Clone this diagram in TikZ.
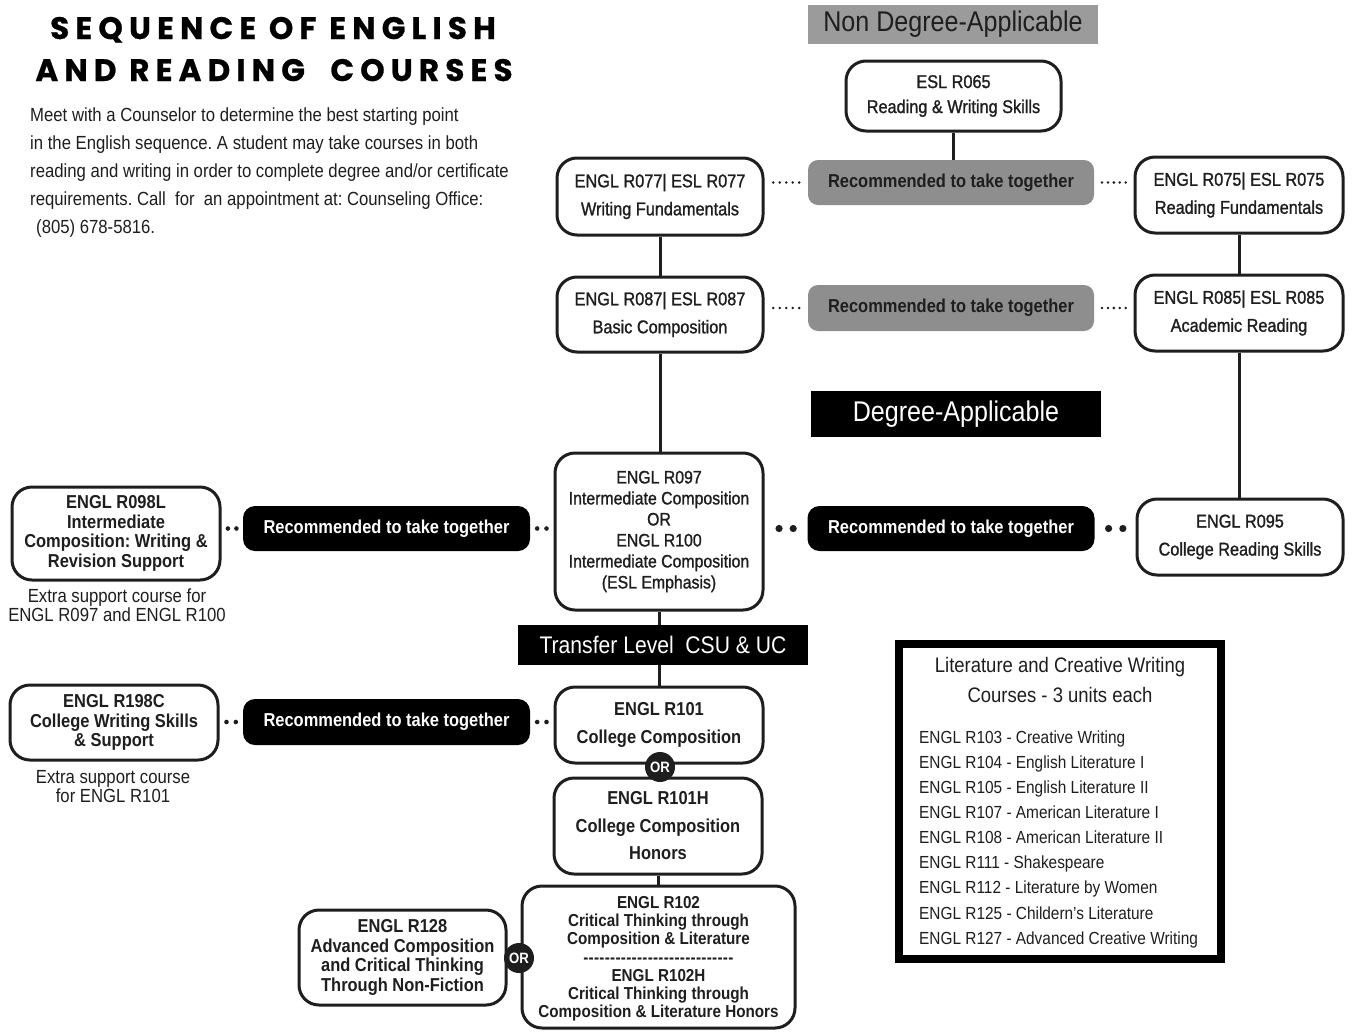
\documentclass[tikz,border=0pt]{standalone}
\usepackage{fontspec}
\usetikzlibrary{calc}
\setmainfont[FakeStretch=0.88]{Liberation Sans}
\newfontfamily\medfont[FakeStretch=0.88,FakeBold=1.2]{Liberation Sans}
\newfontfamily\titlefont[LetterSpace=20,FakeBold=0.8]{Poppins}
\definecolor{ink}{HTML}{1E1E1E}
\definecolor{gbox}{HTML}{8E8E8E}
\definecolor{ghead}{HTML}{9B9B9B}
\newcommand\hy{-\kern0.3pt}
\newcommand\dotrow[4]{\foreach \f in {#4} {\fill[ink] ($(#1)!\f!(#2)$) circle (#3);}}
\frenchspacing
\begin{document}
\begin{tikzpicture}[x=1pt,y=-1pt,
 course/.style={draw=ink, line width=3pt, rounded corners=20pt, fill=white, align=center, inner sep=0pt, text=ink},
 reg/.style={font=\medfont\fontsize{18.5}{28}\selectfont},
 bld/.style={font=\fontsize{18.7}{19.7}\selectfont\bfseries},
 graybox/.style={fill=gbox, rounded corners=10pt, minimum width=286pt, minimum height=45pt, inner sep=0pt, text=ink, font=\fontsize{18.7}{20}\selectfont\bfseries},
 blackbox/.style={fill=black, rounded corners=12pt, minimum width=287pt, minimum height=45pt, inner sep=0pt, text=white, font=\fontsize{18.7}{20}\selectfont\bfseries},
 header/.style={inner sep=0pt, minimum width=290pt, font=\fontsize{28.5}{30}\selectfont},
 conn/.style={draw=ink, line width=3pt},
 orc/.style={circle, fill=ink, text=white, inner sep=0pt, minimum size=30pt, font=\fontsize{15}{15}\selectfont\bfseries},
 para/.style={anchor=base west, inner sep=0pt, text=ink, font=\fontsize{19}{28}\selectfont},
 captext/.style={align=center, inner sep=0pt, text=ink, font=\fontsize{19}{19}\selectfont},
 litline/.style={anchor=base west, inner sep=0pt, text=ink, font=\fontsize{17.5}{25}\selectfont}
]
\useasboundingbox (0,0) rectangle (1356,1031);
\fill[white] (0,0) rectangle (1356,1031);

% title
\node[anchor=base, inner sep=0pt, text=black, font=\titlefont\fontsize{31}{36}\selectfont\bfseries] (t1) at (273,39) {SEQUENCE OF ENGLISH};
\node[anchor=base, inner sep=0pt, text=black, font=\titlefont\fontsize{31}{36}\selectfont\bfseries] (t2) at (274,81) {AND READING\ \ COURSES};

% paragraph
\node[para] (p1) at (30,121) {Meet with a Counselor to determine the best starting point};
\node[para] (p2) at (30,149) {in the English sequence. A student may take courses in both};
\node[para] (p3) at (30,177) {reading and writing in order to complete degree and/or certificate};
\node[para] (p4) at (30,205) {requirements. Call\ \ for\ \ an appointment at: Counseling Office:};
\node[para] (p5) at (36,233) {(805) 678-5816.};

% headers
\node[header, fill=ghead, minimum height=39pt, text=ink] (nondeg) at (953,24.5) {\raisebox{-1.5pt}{Non Degree-Applicable}};
\node[header, fill=black, minimum height=46pt, text=white] (deg) at (956,414) {\raisebox{-1.5pt}{Degree-Applicable}};
\node[header, fill=black, minimum height=40pt, text=white, font=\fontsize{24}{26}\selectfont] (transfer) at (663,645) {Transfer Level\ \ CSU \& UC};

% course boxes
\node[course, reg, font=\medfont\fontsize{18.5}{25}\selectfont, minimum width=215pt, minimum height=70pt] (r065) at (953.5,96) {ESL R065\\Reading \& Writing Skills};
\node[course, reg, minimum width=206pt, minimum height=77pt] (r077) at (660,196.5) {ENGL R077| ESL R077\\Writing Fundamentals};
\node[course, reg, minimum width=208pt, minimum height=76pt] (r075) at (1239,195) {ENGL R075| ESL R075\\Reading Fundamentals};
\node[course, reg, minimum width=206pt, minimum height=75pt] (r087) at (660,314.5) {ENGL R087| ESL R087\\Basic Composition};
\node[course, reg, minimum width=208pt, minimum height=76pt] (r085) at (1239,313) {ENGL R085| ESL R085\\Academic Reading};
\node[course, font=\medfont\fontsize{18}{21}\selectfont, minimum width=208pt, minimum height=157pt] (r097) at (659,531.5) {ENGL R097\\Intermediate Composition\\OR\\ENGL R100\\Intermediate Composition\\(ESL Emphasis)};
\node[course, reg, minimum width=206pt, minimum height=76pt] (r095) at (1240,537) {ENGL R095\\College Reading Skills};
\node[course, bld, minimum width=208pt, minimum height=93pt] (r098) at (116,533.5) {ENGL R098L\\Intermediate\\Composition: Writing \&\\Revision Support};
\node[course, bld, minimum width=208pt, minimum height=75pt] (r198) at (114,722.5) {ENGL R198C\\College Writing Skills\\\& Support};
\node[course, bld, font=\fontsize{18.7}{28}\selectfont\bfseries, minimum width=208pt, minimum height=76pt] (r101) at (659,725) {ENGL R101\\College Composition};
\node[course, bld, font=\fontsize{18.7}{27.5}\selectfont\bfseries, minimum width=208pt, minimum height=96pt] (r101h) at (658,826) {ENGL R101H\\College Composition\\Honors};
\node[course, text depth=0pt, font=\fontsize{17.3}{18.3}\selectfont\bfseries, minimum width=273pt, minimum height=142pt] (r102) at (658.5,957) {ENGL R102\\Critical Thinking through\\Composition \& Literature\\\hy\hy\hy\hy\hy\hy\hy\hy\hy\hy\hy\hy\hy\hy\hy\hy\hy\hy\hy\hy\hy\hy\hy\hy\hy\hy\hy\hy\\ENGL R102H\\Critical Thinking through\\Composition \& Literature Honors};
\node[course, bld, minimum width=207pt, minimum height=95pt] (r128) at (402.5,957.5) {ENGL R128\\Advanced Composition\\and Critical Thinking\\Through Non-Fiction};

% recommended boxes
\node[graybox] (g1) at (951,182.5) {Recommended to take together};
\node[graybox, minimum height=46pt] (g2) at (951,308) {Recommended to take together};
\node[blackbox] (b1) at (951,528.5) {Recommended to take together};
\node[blackbox] (b2) at (386.5,528.5) {Recommended to take together};
\node[blackbox, minimum height=46pt] (b3) at (386.5,722) {Recommended to take together};

% captions
\node[captext] (c1) at (117,605.5) {Extra support course for\\ENGL R097 and ENGL R100};
\node[captext] (c2) at (113,787) {Extra support course\\for ENGL R101};

% solid connectors
\draw[conn] (r065.south) -- (g1.north -| r065.south);
\draw[conn] (r077.south) -- (r087.north);
\draw[conn] (r087.south) -- (r097.north -| r087.south);
\draw[conn] (r075.south) -- (r085.north);
\draw[conn] (r085.south) -- (r095.north -| r085.south);
\draw[conn] (r097.south) -- (transfer.north -| r097.south);
\draw[conn] (transfer.south -| r101.north) -- (r101.north);
\draw[conn] (r101h.south) -- (r102.north -| r101h.south);

% dotted connectors
\dotrow{r077.east |- g1.west}{g1.west}{1.4pt}{0.2,0.35,0.5,0.65,0.8}
\dotrow{g1.east}{r075.west |- g1.east}{1.4pt}{0.2,0.35,0.5,0.65,0.8}
\dotrow{r087.east |- g2.west}{g2.west}{1.4pt}{0.2,0.35,0.5,0.65,0.8}
\dotrow{g2.east}{r085.west |- g2.east}{1.4pt}{0.2,0.35,0.5,0.65,0.8}
\dotrow{r097.east |- b1.west}{b1.west}{3.6pt}{0.34,0.67}
\dotrow{b1.east}{r095.west |- b1.east}{3.6pt}{0.34,0.69}
\dotrow{r098.east |- b2.west}{b2.west}{2.3pt}{0.3,0.7}
\dotrow{b2.east}{r097.west |- b2.east}{2.3pt}{0.3,0.7}
\dotrow{r198.east |- b3.west}{b3.west}{2.3pt}{0.3,0.7}
\dotrow{b3.east}{r101.west |- b3.east}{2.3pt}{0.3,0.7}

% OR circles
\node[orc] (or1) at (660,767) {OR};
\node[orc] (or2) at (519,958) {OR};

% literature box
\node[draw=black, line width=8pt, fill=white, minimum width=322pt, minimum height=315pt, inner sep=0pt] (lit) at (1060,801.5) {};
\node[align=center, inner sep=0pt, text=ink, font=\fontsize{21}{30}\selectfont] (lt) at (1060,680) {Literature and Creative Writing\\Courses - 3 units each};
\node[litline] (l1) at (919,743.3) {ENGL R103 - Creative Writing};
\node[litline] (l2) at (919,768.4) {ENGL R104 - English Literature I};
\node[litline] (l3) at (919,793.5) {ENGL R105 - English Literature II};
\node[litline] (l4) at (919,818.6) {ENGL R107 - American Literature I};
\node[litline] (l5) at (919,843.7) {ENGL R108 - American Literature II};
\node[litline] (l6) at (919,868.8) {ENGL R111 - Shakespeare};
\node[litline] (l7) at (919,893.9) {ENGL R112 - Literature by Women};
\node[litline] (l8) at (919,919) {ENGL R125 - Childern's Literature};
\node[litline] (l9) at (919,944.1) {ENGL R127 - Advanced Creative Writing};
\end{tikzpicture}
\end{document}
